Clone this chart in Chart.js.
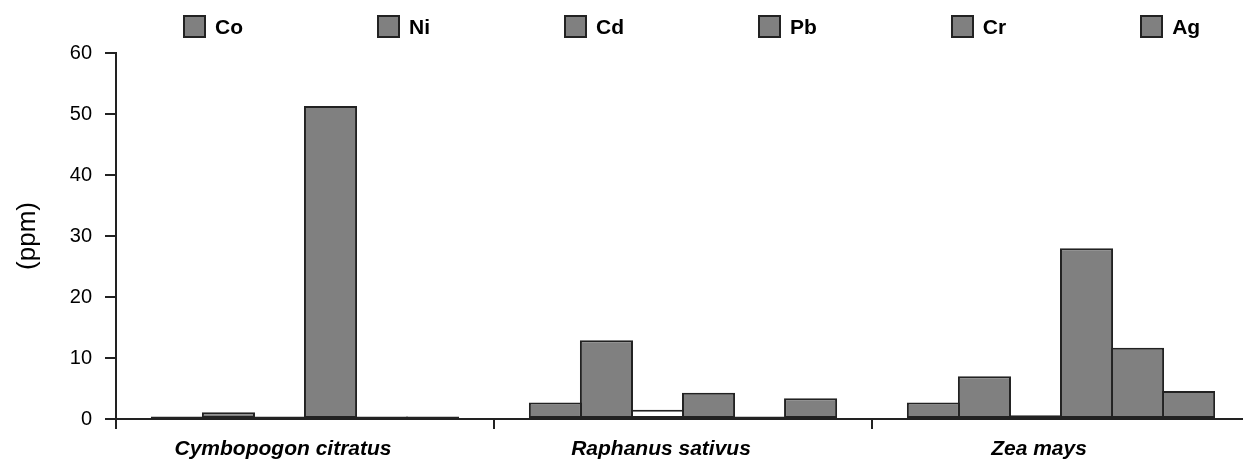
<!DOCTYPE html>
<html>
<head>
<meta charset="utf-8">
<script src="https://cdn.jsdelivr.net/npm/chart.js@4/dist/chart.umd.min.js"></script>
<style>
  body { margin: 0; background: #fff; }
  #wrap { position: relative; width: 1243px; height: 459px; }
  #legend { position: absolute; left: 183px; top: 15px; display: flex; margin: 0; padding: 0; list-style: none; }
  #legend li { display: flex; align-items: center; height: 23px; margin-right: 134px; }
  #legend li:last-child { margin-right: 0; }
  #legend .box { width: 23px; height: 23px; border: 2px solid #222; box-sizing: border-box; }
  #legend .txt { margin-left: 9px; line-height: 23px; font: bold 21px "Liberation Sans", Arial, sans-serif; color: #000; }
</style>
</head>
<body>
<div id="wrap">
  <canvas id="chart" width="1243" height="459"></canvas>
  <ul id="legend"></ul>
</div>
<script>
// Data (ppm)
const plants = ['Cymbopogon citratus', 'Raphanus sativus', 'Zea mays'];
const metals = ['Co', 'Ni', 'Cd', 'Pb', 'Cr', 'Ag'];
const co = [0.4, 2.7, 2.7];
const ni = [1.1, 12.9, 7.0];
const cd = [0.4, 1.5, 0.6];
const pb = [51.3, 4.3, 28.0];
const cr = [0.4, 0.4, 11.7];
const ag = [0.4, 3.4, 4.6];
const yTicks = [0, 10, 20, 30, 40, 50, 60];

const seriesValues = [co, ni, cd, pb, cr, ag];
const font = '"Liberation Sans", Arial, sans-serif';

// Cd bars are drawn hollow in the figure, legend swatch stays grey
function fillFor(name) {
    if (name !== 'Cd') return '#808080';
    return ctx => ctx.type === 'data' ? '#ffffff' : '#808080';
}

const datasets = metals.map((name, i) => ({
    label: name,
    data: seriesValues[i],
    backgroundColor: fillFor(name),
    borderColor: '#222',
    borderWidth: 2,
    borderSkipped: false,
    barPercentage: 1.04,
    categoryPercentage: 0.81
}));

// HTML legend, built from the datasets
const htmlLegend = {
    id: 'htmlLegend',
    afterUpdate(chart) {
        const ul = document.getElementById('legend');
        ul.innerHTML = '';
        chart.data.datasets.forEach(ds => {
            const li = document.createElement('li');
            const box = document.createElement('span');
            box.className = 'box';
            box.style.background = '#808080';
            const txt = document.createElement('span');
            txt.className = 'txt';
            txt.textContent = ds.label;
            li.appendChild(box);
            li.appendChild(txt);
            ul.appendChild(li);
        });
    }
};

// the original x axis runs a few px past the right edge of the picture
const widenX = {
    id: 'widenX',
    afterLayout(chart) {
        const x = chart.scales.x;
        x.right += 7;
        x.width = x.right - x.left;
        x.configure();
    }
};

new Chart(document.getElementById('chart'), {
    type: 'bar',
    data: { labels: plants, datasets: datasets },
    plugins: [htmlLegend, widenX],
    options: {
        responsive: false,
        animation: false,
        layout: { padding: { top: 53, right: 0, left: 0, bottom: 0 } },
        plugins: {
            legend: { display: false },
            tooltip: { enabled: false }
        },
        scales: {
            x: {
                grid: { offset: true, drawOnChartArea: false, tickLength: 10, color: '#222', lineWidth: 2 },
                border: { color: '#222', width: 2 },
                ticks: {
                    color: '#000',
                    font: { family: font, size: 21, weight: 'bold', style: 'italic' },
                    padding: 8,
                    labelOffset: -22,
                    maxRotation: 0,
                    autoSkip: false
                },
                afterFit: s => { s.height = 40; }
            },
            y: {
                min: 0,
                max: 60,
                afterBuildTicks: s => { s.ticks = yTicks.map(v => ({ value: v })); },
                grid: { drawOnChartArea: false, tickLength: 11, color: '#222', lineWidth: 2 },
                border: { color: '#222', width: 2 },
                ticks: { color: '#000', font: { family: font, size: 20 }, padding: 13 },
                title: {
                    display: true,
                    text: '(ppm)',
                    color: '#000',
                    font: { family: font, size: 26 },
                    padding: { top: 12, bottom: 0 }
                },
                afterFit: s => { s.width = 116; }
            }
        }
    }
});
</script>
</body>
</html>
